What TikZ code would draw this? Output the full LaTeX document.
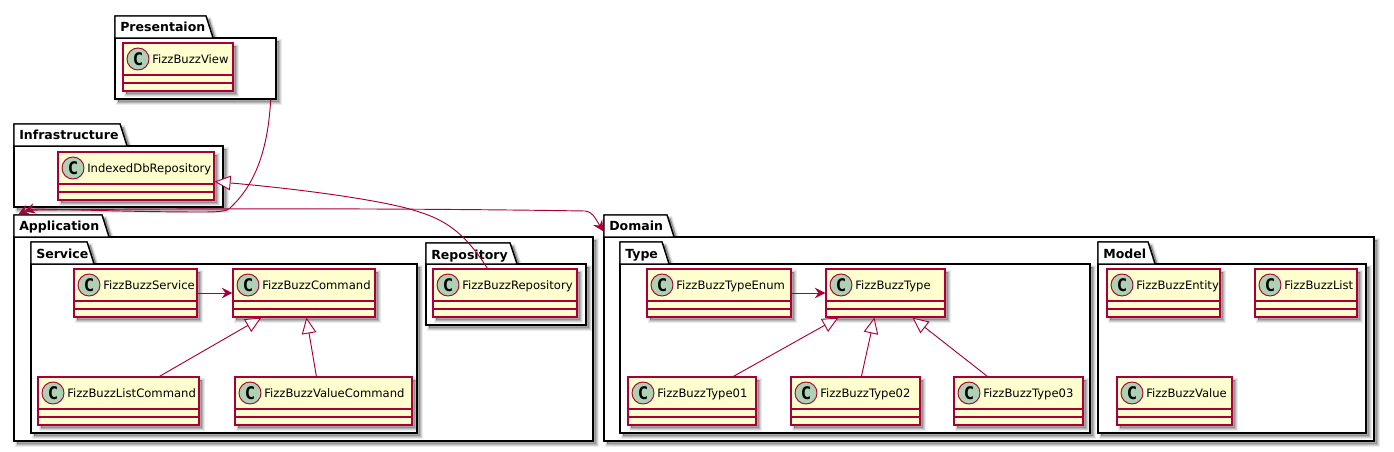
\documentclass[tikz,border=0pt]{standalone}
\usepackage{fontspec}
\setmainfont{DejaVu Sans}
\newfontfamily\spotfont{DejaVu Sans Mono}
\usetikzlibrary{arrows.meta,calc,fit}
\definecolor{umlred}{HTML}{A80036}
\definecolor{umlfill}{HTML}{FEFECE}
\definecolor{umlspot}{HTML}{ADD1B2}
\tikzset{
  softshadow/.style={
    preaction={draw=black,fill=black,opacity=.08,line width=3.4pt,transform canvas={shift={(2.6pt,-2.6pt)}}},
    preaction={draw=black,fill=black,opacity=.1,line width=2pt,transform canvas={shift={(2.6pt,-2.6pt)}}},
    preaction={draw=black,fill=black,opacity=.14,line width=.6pt,transform canvas={shift={(2.6pt,-2.6pt)}}}},
  pkgline/.style={draw=black,line width=1pt,fill=white},
  pkgbox/.style={pkgline,softshadow,inner sep=0pt},
  pkgname/.style={anchor=base west,inner sep=0pt,font=\bfseries\fontsize{9.4}{9.4}\selectfont},
  clsbox/.style={draw=umlred,line width=.9pt,fill=umlfill,softshadow,inner sep=0pt},
  clsline/.style={draw=umlred,line width=.85pt},
  clsspot/.style={circle,draw=umlred,line width=.7pt,fill=umlspot,minimum size=16.5pt,inner sep=0pt,
    font=\spotfont\bfseries\fontsize{13}{13}\selectfont},
  clsname/.style={anchor=base west,inner sep=0pt,font=\fontsize{8.7}{8.7}\selectfont},
  rel/.style={draw=umlred,line width=.7pt},
  uses/.style={rel,-{Stealth[length=8pt,width=8pt,inset=2.8pt]}},
  usesleft/.style={rel,{Stealth[length=8pt,width=8pt,inset=2.8pt]}-{Stealth[length=8pt,width=8pt,inset=2.8pt]}},
  extends/.style={rel,-{Triangle[open,length=12pt,width=11pt,fill=white]}}
}
\newcommand{\pkg}[8]{
  \draw[pkgline,softshadow] (#2,#5) -- (#2,#3) -- (#4,#3) -- ({#4+7},#5) -- cycle;
  \node[pkgbox,fit={(#2,#5) (#6,#7)}] (#1) {};
  \draw[pkgline] (#2,#5) -- (#2,#3) -- (#4,#3) -- ({#4+7},#5) -- cycle;
  \node[pkgname] (#1-name) at ({#2+5},{#3+16}) {#8};
}
\newcommand{\cls}[5]{
  \node[clsbox,fit={(#2,#4) (#3,{#4+48})}] (#1) {};
  \draw[clsline] (#2,{#4+32}) -- (#3,{#4+32});
  \draw[clsline] (#2,{#4+40}) -- (#3,{#4+40});
  \node[clsspot] (#1-spot) at ({#2+15},{#4+16}) {C};
  \node[clsname] (#1-name) at ({#2+29},{#4+20.5}) {#5};
}
\begin{document}
\begin{tikzpicture}[x=.75pt,y=-.75pt]
  \useasboundingbox (0,0) rectangle (1394,452);
  \pkg{presentaion}{115}{16}{206}{38}{276}{99}{Presentaion}
  \pkg{infrastructure}{14}{124}{120}{146}{223}{207}{Infrastructure}
  \pkg{application}{14}{215}{102}{237}{593}{441}{Application}
  \pkg{service}{31}{242}{87}{264}{417}{433}{Service}
  \pkg{repository}{426}{243}{510}{264}{586}{325}{Repository}
  \pkg{domain}{604}{215}{667}{237}{1374}{441}{Domain}
  \pkg{type}{620}{242}{662}{264}{1090}{433}{Type}
  \pkg{model}{1098}{242}{1148}{264}{1366}{433}{Model}

  \cls{view}{123}{233}{43}{FizzBuzzView}
  \cls{indexeddb}{58}{214}{152}{IndexedDbRepository}
  \cls{fbservice}{74}{197}{269}{FizzBuzzService}
  \cls{command}{233}{375}{269}{FizzBuzzCommand}
  \cls{listcommand}{38}{199}{377}{FizzBuzzListCommand}
  \cls{valuecommand}{235}{412}{377}{FizzBuzzValueCommand}
  \cls{fbrepository}{433}{577}{269}{FizzBuzzRepository}
  \cls{typeenum}{647}{791}{269}{FizzBuzzTypeEnum}
  \cls{fbtype}{826}{945}{269}{FizzBuzzType}
  \cls{typeone}{628}{756}{377}{FizzBuzzType01}
  \cls{typetwo}{791}{920}{377}{FizzBuzzType02}
  \cls{typethree}{954}{1083}{377}{FizzBuzzType03}
  \cls{entity}{1107}{1220}{269}{FizzBuzzEntity}
  \cls{fblist}{1255}{1357}{269}{FizzBuzzList}
  \cls{fbvalue}{1117}{1232}{377}{FizzBuzzValue}

  \draw[uses] (fbservice.east) -- (command.west);
  \draw[uses] (typeenum.east) -- (fbtype.west);
  \draw[extends] ($(listcommand.north west)+(122,0)$) -- ($(command.south west)+(29,0)$);
  \draw[extends] ($(valuecommand.north west)+(82,0)$) -- ($(command.south west)+(74,0)$);
  \draw[extends] ($(typeone.north west)+(106,0)$) -- ($(fbtype.south west)+(13,0)$);
  \draw[extends] ($(typetwo.north west)+(71,0)$) -- ($(fbtype.south west)+(49,0)$);
  \draw[extends] ($(typethree.north west)+(34,0)$) -- ($(fbtype.south west)+(87,0)$);
  \draw[extends] ($(fbrepository.north west)+(55,0)$) .. controls (462,228) and (440,218) .. (413,210)
    .. controls (380,200) and (300,189) .. ($(indexeddb.south east)+(0,-19)$);
  \draw[uses] ($(presentaion.south east)+(-6,0)$) .. controls (268,150) and (255,185) .. (230,208)
    .. controls (226,212) and (215,212) .. (200,212)
    .. controls (120,212) and (36,208) .. ($(application.north west)+(11,-25)$);
  \draw[usesleft] ($(application.north west)+(5,-22)$) .. controls (25,211) and (30,210) .. (40,210)
    .. controls (150,208.5) and (400,208) .. (585,211)
    .. controls (593,212) and (595,218) .. ($(domain.north west)+(0,-5)$);
\end{tikzpicture}
\end{document}
